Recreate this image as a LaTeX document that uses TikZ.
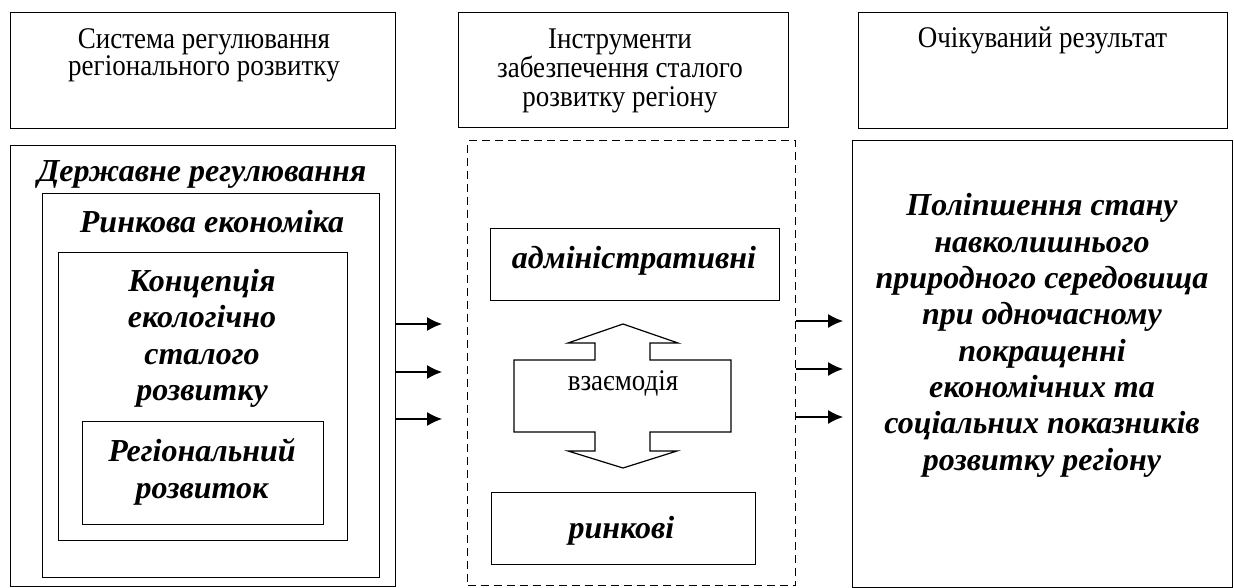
\documentclass[tikz,border=0pt]{standalone}
\usepackage{fontspec}
\setmainfont{Liberation Serif}
\newfontfamily\narrowserif[FakeStretch=0.9]{Liberation Serif}
\usetikzlibrary{arrows.meta, positioning}

\begin{document}
\begin{tikzpicture}[x=1pt, y=-1pt]
    \tikzstyle{box} = [rectangle, draw=black, line width=1.2pt, inner sep=0pt, anchor=north west]
    \tikzstyle{dashbox} = [box, dash pattern=on 8pt off 5pt]
    \tikzstyle{plain} = [align=center, font=\narrowserif\fontsize{30}{24}\selectfont, anchor=base, inner sep=0pt]
    \tikzstyle{heavy} = [align=center, font=\fontsize{32}{36.5}\selectfont\bfseries\itshape, anchor=base, inner sep=0pt]
    \tikzstyle{arrow} = [line width=1.2pt, -{Latex[length=15pt, width=14pt]}]

    \useasboundingbox (0,0) rectangle (1234,588);

    % top row (text nodes sit on the baseline of their last line)
    \node (sys) [box, minimum width=385pt, minimum height=116pt] at (10,12) {};
    \node (instr) [box, minimum width=330pt, minimum height=115pt] at (458,12) {};
    \node (result) [box, minimum width=369pt, minimum height=116pt] at (858,12) {};
    \node (sysText) [plain] at (204,76) {Система регулювання\\регіонального розвитку};
    \node (instrText) [plain, font=\narrowserif\fontsize{30}{29}\selectfont] at (620,107) {Інструменти\\забезпечення сталого\\розвитку регіону};
    \node (resultText) [plain] at (1042.5,48) {Очікуваний результат};

    % left column
    \node (derzh) [box, minimum width=385pt, minimum height=441pt] at (10,145) {};
    \node (rynok) [box, minimum width=337pt, minimum height=384pt] at (42,193) {};
    \node (konc) [box, minimum width=289pt, minimum height=288pt] at (58,252) {};
    \node (region) [box, minimum width=241pt, minimum height=103pt] at (82,421) {};
    \node (derzhText) [heavy] at (202,182) {Державне регулювання};
    \node (rynokText) [heavy] at (212,233) {Ринкова економіка};
    \node (koncText) [heavy] at (202,400.5) {Концепція\\екологічно\\сталого\\розвитку};
    \node (regionText) [heavy] at (202,498) {Регіональний\\розвиток};

    % middle column
    \node (tools) [dashbox, minimum width=328pt, minimum height=445pt] at (467,140) {};
    \node (admin) [box, minimum width=289pt, minimum height=72pt] at (490,228) {};
    \node (market) [box, minimum width=264pt, minimum height=72pt] at (491,492) {};
    \node (adminText) [heavy] at (634,268) {адміністративні};
    \node (marketText) [heavy] at (621.5,538) {ринкові};
    \draw [line width=1.2pt] (623,324) -- (678,343) -- (650,343) -- (650,360) -- (731,360)
        -- (731,432) -- (650,432) -- (650,451) -- (677,451) -- (623,468) -- (568,451)
        -- (595,451) -- (595,432) -- (514,432) -- (514,360) -- (595,360) -- (595,343)
        -- (568,343) -- cycle;
    \node (vzText) [plain] at (623,390) {взаємодія};

    % right column
    \node (goal) [box, minimum width=380pt, minimum height=447pt] at (852,140) {};
    \node (goalText) [heavy, font=\fontsize{32}{36.3}\selectfont\bfseries\itshape] at (1042,470)
        {Поліпшення стану\\навколишнього\\природного середовища\\при одночасному\\покращенні\\економічних та\\соціальних показників\\розвитку регіону};

    % arrows
    \foreach \y in {324,372,419}
        \draw [arrow, shorten >=25pt] (derzh.east |- 0,\y) -- (tools.west |- 0,\y);
    \foreach \y in {321,369,417}
        \draw [arrow, shorten >=9pt] (tools.east |- 0,\y) -- (goal.west |- 0,\y);
\end{tikzpicture}
\end{document}
